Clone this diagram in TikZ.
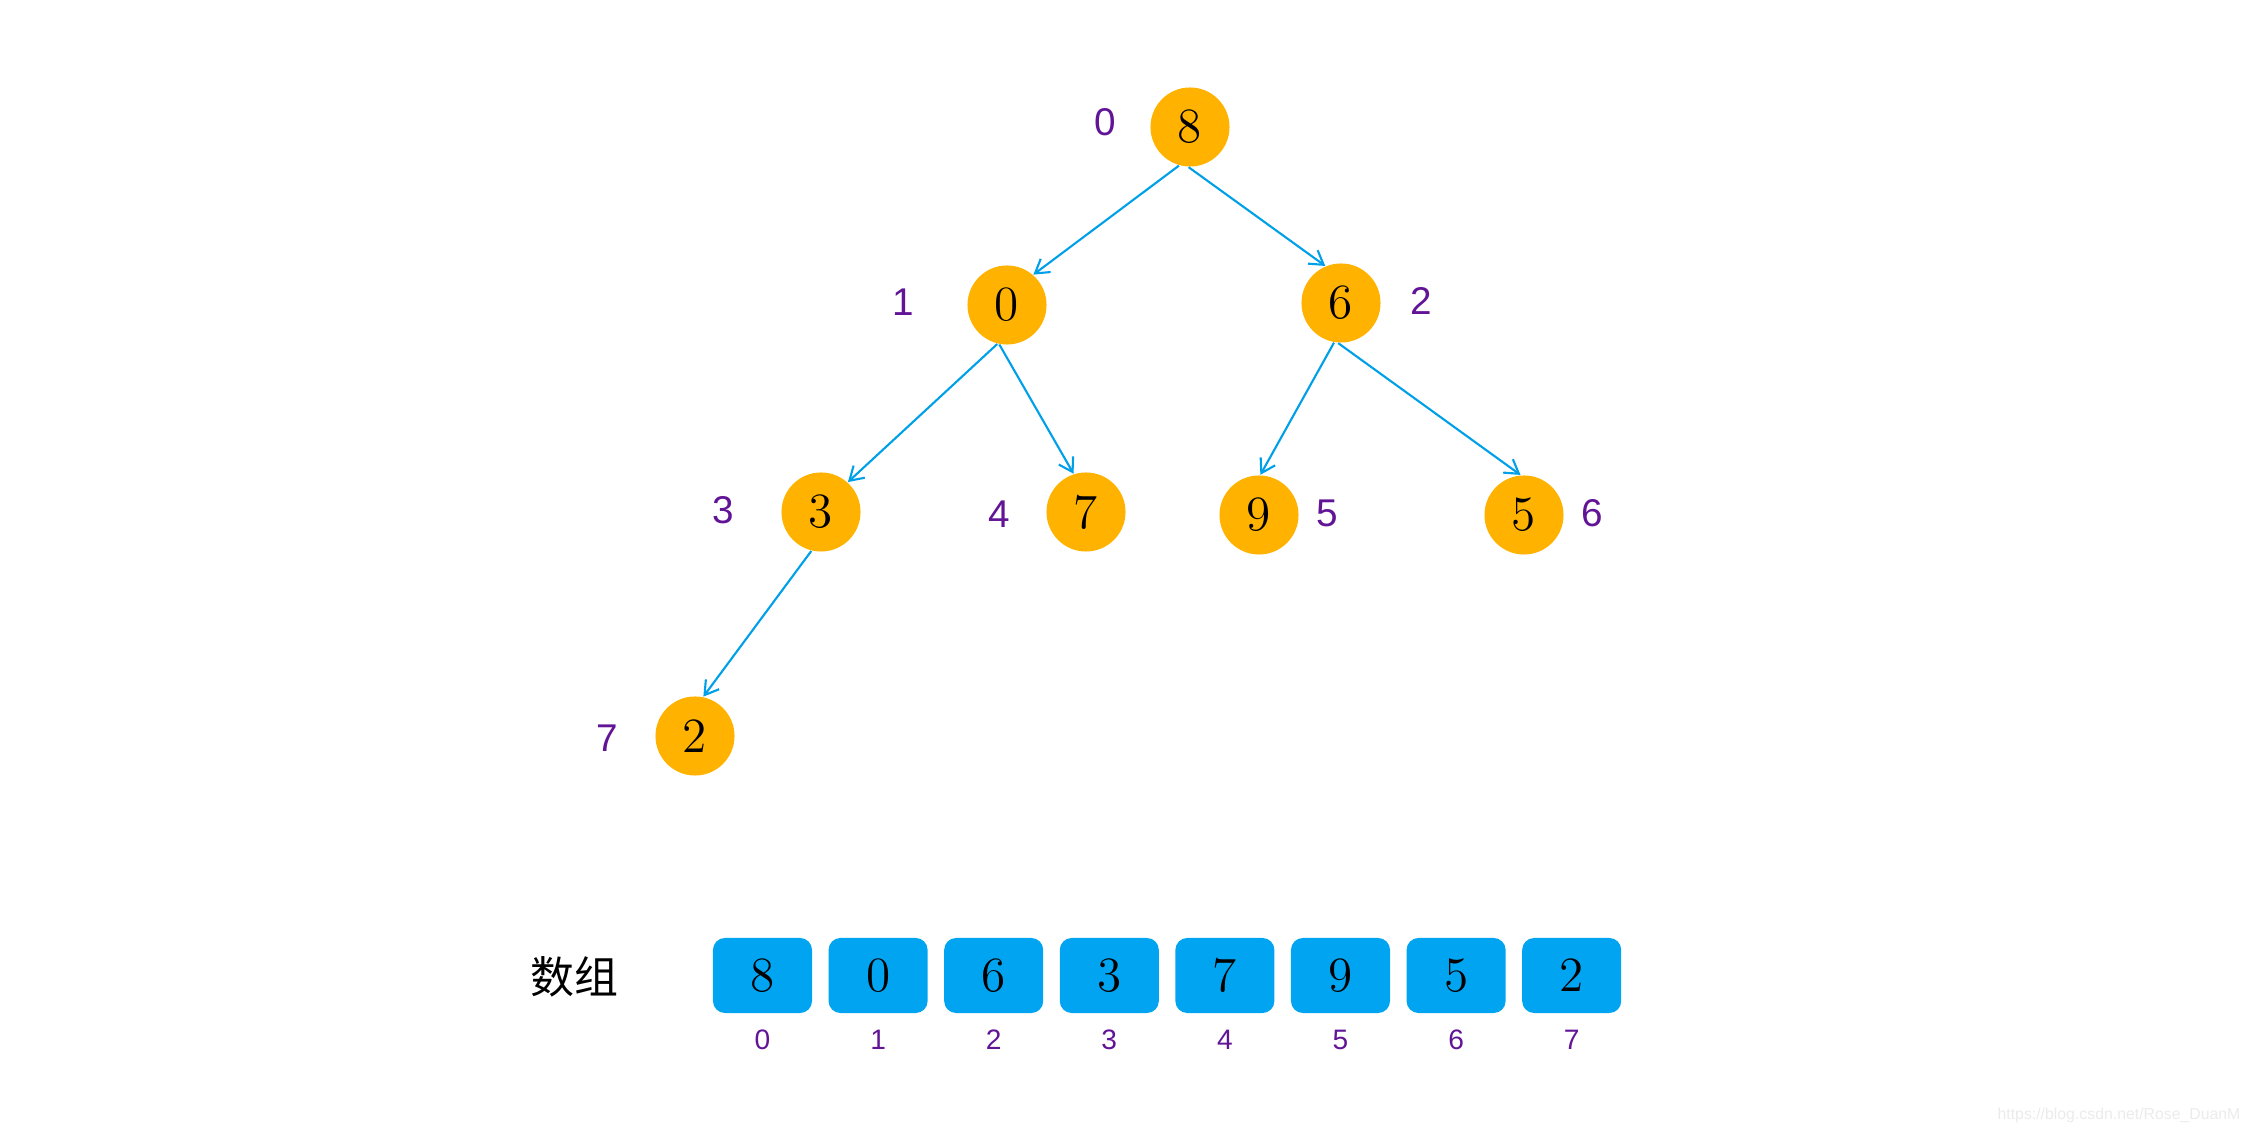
\documentclass[tikz,border=0pt]{standalone}
\usepackage{fontspec}
\newfontfamily\labelfont{Liberation Sans}
\newfontfamily\cjk{Noto Sans CJK SC}
\usepackage{tikz}
\usetikzlibrary{arrows.meta}

\definecolor{heapnode}{RGB}{255,179,0}
\definecolor{arrbox}{RGB}{0,164,240}
\definecolor{edgeblue}{RGB}{0,160,233}
\definecolor{idxpurple}{RGB}{98,20,150}

\begin{document}
\begin{tikzpicture}[x=0.01cm, y=-0.01cm,
		heap/.style={circle, fill=heapnode, minimum size=0.79cm, inner sep=0pt, font=\fontsize{14}{14}\selectfont},
		cell/.style={fill=arrbox, rounded corners=3.4pt, minimum width=0.99cm, minimum height=0.75cm, inner sep=0pt, font=\fontsize{14}{14}\selectfont},
		idx/.style={text=idxpurple, inner sep=0pt, font=\labelfont\fontsize{11}{11}\selectfont},
		smallidx/.style={text=idxpurple, inner sep=0pt, font=\labelfont\fontsize{8}{8}\selectfont},
		link/.style={edgeblue, line width=0.6pt, -{Straight Barb[length=3.8pt, width=4.7pt]}}]
		\useasboundingbox (0,0) rectangle (2250,1134);

		% heap as a tree
		\node[heap] (n0) at (1190,127) {8};
		\node[heap] (n1) at (1007,305) {0};
		\node[heap] (n2) at (1341,303) {6};
		\node[heap] (n3) at (821,512) {3};
		\node[heap] (n4) at (1086,512) {7};
		\node[heap] (n5) at (1259,515) {9};
		\node[heap] (n6) at (1524,515) {5};
		\node[heap] (n7) at (695,736) {2};

		\node[idx] (l0) at (1105,122) {0};
		\node[idx] (l1) at (903,302) {1};
		\node[idx] (l2) at (1421,301) {2};
		\node[idx] (l3) at (723,510) {3};
		\node[idx] (l4) at (999,514) {4};
		\node[idx] (l5) at (1327,513) {5};
		\node[idx] (l6) at (1592,513) {6};
		\node[idx] (l7) at (607,738) {7};

		\draw[link] (n0.254) -- (n1.49);
		\draw[link] (n0.268) -- (n2.113);
		\draw[link] (n1.256) -- (n3.48);
		\draw[link] (n1.259) -- (n4.108);
		\draw[link] (n2.260) -- (n5.88);
		\draw[link] (n2.266) -- (n6.95);
		\draw[link] (n3.256) -- (n7.78);

		% heap as an array
		\node[font=\cjk\fontsize{12.5}{12.5}\selectfont, inner sep=0pt] (arr) at (574,977) {数组};
		\foreach \v [count=\i from 0] in {8,0,6,3,7,9,5,2}{
			\node[cell] (a\i) at (762.5+115.6*\i,975.5) {\v};
			\node[smallidx] (k\i) at (762.5+115.6*\i,1040) {\i};
		}

		\node[text=black!8, inner sep=0pt, font=\labelfont\fontsize{4.5}{4.5}\selectfont] (src) at (2119,1115) {https://blog.csdn.net/Rose\_DuanM};

	\end{tikzpicture}
\end{document}
